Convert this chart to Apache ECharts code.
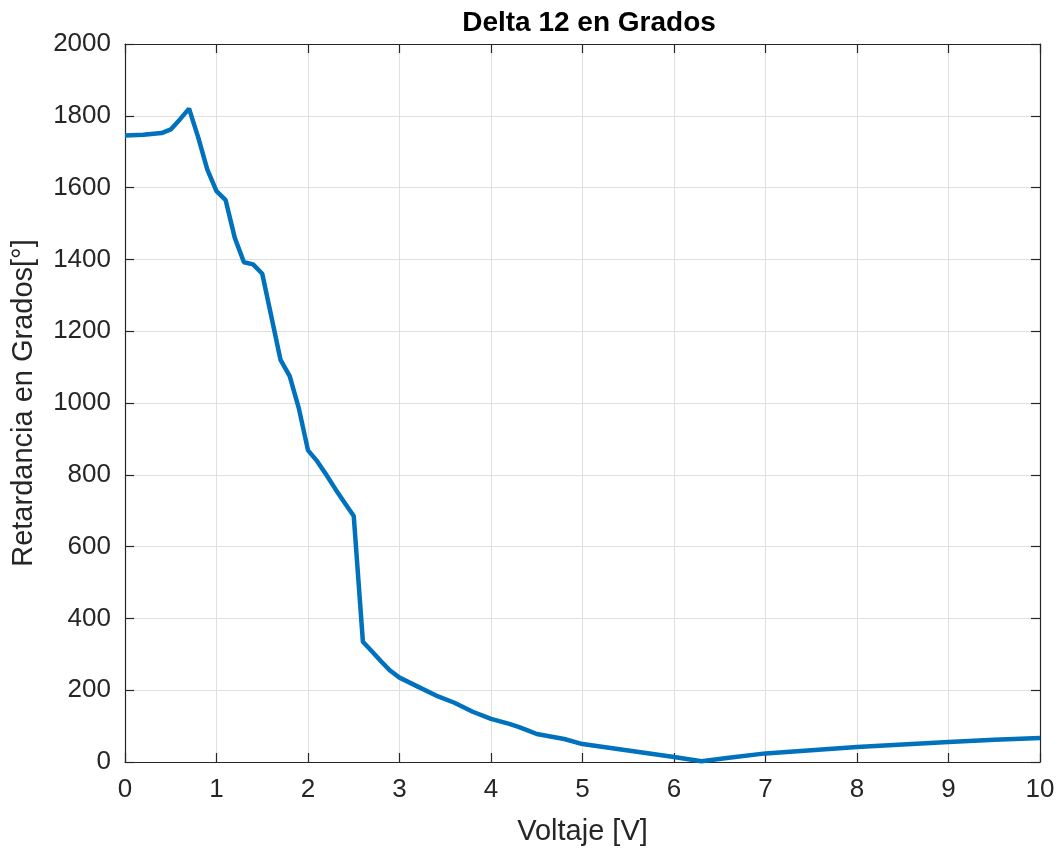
<!DOCTYPE html>
<html>
<head>
<meta charset="utf-8">
<script src="https://cdn.jsdelivr.net/npm/echarts@6/dist/echarts.min.js"></script>
<style>html,body{margin:0;padding:0;background:#fff}#c{width:1060px;height:851px}</style>
</head>
<body>
<div id="c"></div>
<script>
var voltaje = [0, 0.2, 0.4, 0.5, 0.6, 0.7, 0.8, 0.9, 1.0, 1.1, 1.2, 1.3, 1.4, 1.5, 1.6, 1.7, 1.8, 1.9, 2.0, 2.1, 2.2, 2.3, 2.4, 2.5, 2.6, 2.7, 2.8, 2.9, 3.0, 3.2, 3.4, 3.6, 3.8, 4.0, 4.2, 4.3, 4.4, 4.5, 4.8, 5.0, 5.5, 6.0, 6.3, 6.6, 7.0, 7.5, 8.0, 8.5, 9.0, 9.5, 10];
var retardancia = [1745, 1747, 1752, 1762, 1790, 1820, 1740, 1650, 1590, 1565, 1460, 1392, 1386, 1360, 1240, 1120, 1075, 985, 868, 838, 800, 760, 722, 685, 335, 308, 280, 254, 235, 210, 185, 165, 140, 120, 106, 98, 88, 78, 64, 50, 32, 14, 2, 12, 24, 33, 42, 49, 56, 62, 67];
var xTicks = {min: 0, max: 10, interval: 1};
var yTicks = {min: 0, max: 2000, interval: 200};

var data = voltaje.map(function (v, i) { return [v, retardancia[i]]; });
var chart = echarts.init(document.getElementById('c'));
var FONT = 'Liberation Sans, Arial, Helvetica, sans-serif';
var labelStyle = {color: '#262626', fontSize: 26, fontFamily: FONT, formatter: function (v) { return String(v); }};
var axLine = {show: true, onZero: false, lineStyle: {color: '#262626', width: 1.2}};
var tick = {show: true, inside: true, length: 9, lineStyle: {color: '#262626', width: 1.2}};
var nameStyle = {color: '#262626', fontSize: 29, fontFamily: FONT};
chart.setOption({
  animation: false,
  backgroundColor: '#ffffff',
  title: {
    text: 'Delta 12 en Grados', left: 584, top: 4, textAlign: 'center',
    textStyle: {fontSize: 28, fontWeight: 'bold', color: '#000', fontFamily: FONT}
  },
  grid: {left: 125, right: 20, top: 44, bottom: 87, containLabel: false},
  xAxis: [{
    type: 'value', min: xTicks.min, max: xTicks.max, interval: xTicks.interval,
    name: 'Voltaje [V]', nameLocation: 'middle', nameGap: 55, nameTextStyle: nameStyle,
    axisLine: axLine, axisTick: tick,
    axisLabel: Object.assign({margin: 15}, labelStyle),
    splitLine: {show: true, lineStyle: {color: '#dfdfdf', width: 1}}
  }, {
    type: 'value', position: 'top', min: xTicks.min, max: xTicks.max, interval: xTicks.interval,
    axisLine: axLine, axisTick: tick, axisLabel: {show: false}, splitLine: {show: false}
  }],
  yAxis: [{
    type: 'value', min: yTicks.min, max: yTicks.max, interval: yTicks.interval,
    name: 'Retardancia en Grados[°]', nameLocation: 'middle', nameGap: 87, nameTextStyle: nameStyle,
    axisLine: axLine, axisTick: tick,
    axisLabel: Object.assign({margin: 14}, labelStyle),
    splitLine: {show: true, lineStyle: {color: '#dfdfdf', width: 1}}
  }, {
    type: 'value', position: 'right', min: yTicks.min, max: yTicks.max, interval: yTicks.interval,
    axisLine: axLine, axisTick: tick, axisLabel: {show: false}, splitLine: {show: false}
  }],
  series: [{
    type: 'line', data: data, showSymbol: false, symbol: 'none', smooth: false,
    lineStyle: {color: '#0072BD', width: 4.5}, clip: true
  }]
});
</script>
</body>
</html>
